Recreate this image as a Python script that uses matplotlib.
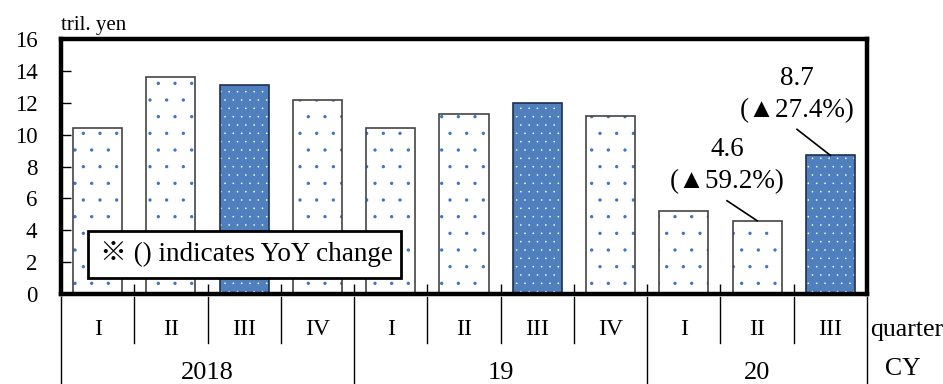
import matplotlib.pyplot as plt
from matplotlib.patches import Rectangle

plt.rcParams['font.family'] = ['Liberation Serif', 'Noto Sans CJK JP', 'DejaVu Sans']
plt.rcParams['hatch.linewidth'] = 0.0

# data (tril. yen)
quarters = ['I', 'II', 'III', 'IV', 'I', 'II', 'III', 'IV', 'I', 'II', 'III']
years = ['2018', '19', '20']
year_sizes = [4, 4, 3]
values = [10.4, 13.6, 13.1, 12.2, 10.4, 11.3, 12.0, 11.2, 5.2, 4.6, 8.7]
highlight = [False, False, True, False, False, False, True, False, False, False, True]
notes = {9: ('4.6', '(▲59.2%)'), 10: ('8.7', '(▲27.4%)')}

blue = '#4f7fbd'
dot_blue = '#3f74c6'

fig = plt.figure(figsize=(9.43, 3.84), dpi=100)
ax = fig.add_axes([0.0647, 0.2344, 0.8547, 0.664])

w = 0.67
for i, v in enumerate(values):
    if highlight[i]:
        ax.bar(i, v, w, color=blue, hatch='..', edgecolor='white', linewidth=0, zorder=2)
        ax.bar(i, v, w, fill=False, edgecolor='#1f2f4f', linewidth=1.2, zorder=3)
    else:
        ax.bar(i, v, w, color='white', hatch='.', edgecolor=dot_blue, linewidth=0, zorder=2)
        ax.bar(i, v, w, fill=False, edgecolor='#444444', linewidth=1.2, zorder=3)

ax.set_xlim(-0.5, len(values) - 0.5)
ax.set_ylim(0, 16)
ax.set_yticks(range(0, 17, 2))
ax.tick_params(axis='y', direction='in', length=7, width=1, pad=17, labelsize=16.5)
ax.set_xticks([i + 0.5 for i in range(len(values) - 1)])
ax.set_xticklabels([])
ax.tick_params(axis='x', direction='in', length=7, width=1)
for s in ax.spines.values():
    s.set_linewidth(3.2)
    s.set_zorder(5)

# category rows under the axis
trans = ax.get_xaxis_transform()
for i, q in enumerate(quarters):
    ax.text(i, -0.14, q, transform=trans, ha='center', va='center', fontsize=17)
ax.plot([-0.5, -0.5], [-0.01, -0.36], transform=trans, color='black', lw=1, clip_on=False)
pos = -0.5
for y, n in zip(years, year_sizes):
    for k in range(1, n):
        ax.plot([pos + k, pos + k], [-0.01, -0.192], transform=trans, color='black', lw=1, clip_on=False)
    ax.text(pos + n / 2, -0.31, y, transform=trans, ha='center', va='center', fontsize=19)
    pos += n
    ax.plot([pos, pos], [-0.01, -0.36], transform=trans, color='black', lw=1, clip_on=False)

ax.text(1.004, -0.14, 'quarter', transform=ax.transAxes, ha='left', va='center', fontsize=18.5)
ax.text(1.045, -0.295, 'CY', transform=ax.transAxes, ha='center', va='center', fontsize=18.5)
ax.text(0.0, 1.015, 'tril. yen', transform=ax.transAxes, ha='left', va='bottom', fontsize=15)

# value notes with leader lines
offsets = {9: (-0.41, 1.25), 10: (-0.455, 1.63)}
for i, (val, chg) in notes.items():
    dx, dy = offsets[i]
    v = values[i]
    ax.plot([i + dx, i], [v + dy, v], color='black', lw=1.2, zorder=4)
    ax.text(i + dx, v + dy + 1.2, chg, ha='center', va='center', fontsize=19.5)
    ax.text(i + dx, v + dy + 3.22, val, ha='center', va='center', fontsize=19.5)

# note box
ax.add_patch(Rectangle((0.0335, 0.0627), 0.3883, 0.1843, transform=ax.transAxes,
                       fc='white', ec='black', lw=2, zorder=6))
ax.text(0.0484, 0.155, '※ () indicates YoY change', transform=ax.transAxes,
        ha='left', va='center', fontsize=19.5, zorder=7)

fig.savefig('out.png', dpi=100)
